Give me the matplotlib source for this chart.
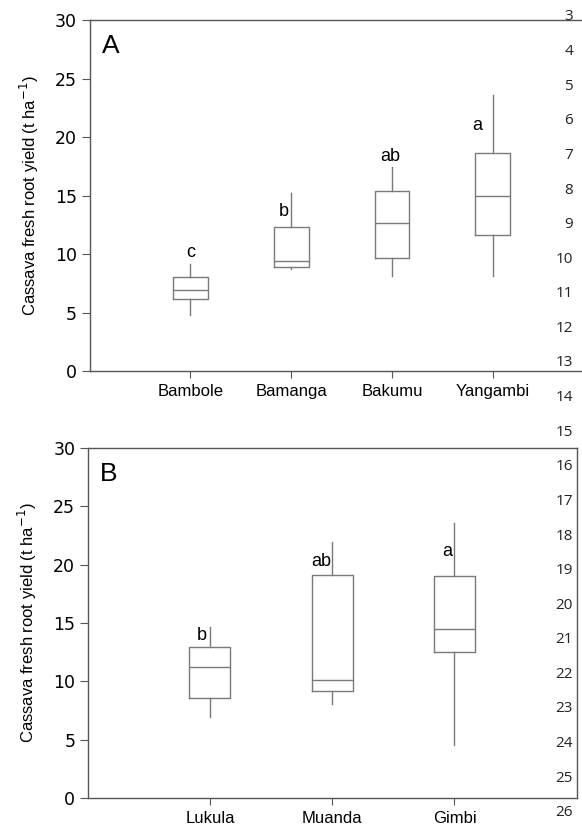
import matplotlib.pyplot as plt

# Panel A data
sites_a = ['Bambole', 'Bamanga', 'Bakumu', 'Yangambi']
whislo_a = [4.76, 8.69, 8.12, 8.12]
q1_a = [6.18, 8.91, 9.68, 11.62]
med_a = [6.95, 9.38, 12.68, 14.98]
q3_a = [8.03, 12.28, 15.38, 18.6]
whishi_a = [9.12, 15.19, 17.46, 23.59]
letters_a = ['c', 'b', 'ab', 'a']
letter_y_a = [10.1, 13.6, 18.3, 21.0]

# Panel B data
sites_b = ['Lukula', 'Muanda', 'Gimbi']
whislo_b = [6.93, 8.07, 4.56]
q1_b = [8.55, 9.18, 12.54]
med_b = [11.2, 10.12, 14.51]
q3_b = [12.92, 19.07, 19.04]
whishi_b = [14.68, 21.95, 23.52]
letters_b = ['b', 'ab', 'a']
letter_y_b = [13.97, 20.24, 21.16]

line_numbers = [3, 4, 5, 6, 7, 8, 9, 10, 11, 12, 13, 14, 15, 16, 17, 18, 19,
                20, 21, 22, 23, 24, 25, 26]

box_col = '#7a7a7a'
spine_col = '#555555'
ylabel = 'Cassava fresh root yield (t ha$^{-1}$)'


def draw_panel(ax, sites, lo, q1, med, q3, hi, letters, let_y, let_dx, width, tag, xmax):
    stats = []
    for i in range(len(sites)):
        stats.append({'whislo': lo[i], 'q1': q1[i], 'med': med[i],
                      'q3': q3[i], 'whishi': hi[i], 'fliers': []})
    pos = list(range(1, len(sites) + 1))
    line = dict(color=box_col, linewidth=1.0)
    ax.bxp(stats, positions=pos, widths=width, showcaps=False,
           boxprops=line, whiskerprops=line, medianprops=line)
    for p, l, y, dx in zip(pos, letters, let_y, let_dx):
        ax.text(p + dx, y, l, ha='center', va='center', fontsize=13,
                family='Liberation Sans')
    ax.set_xlim(0, xmax)
    ax.set_ylim(0, 30)
    ax.set_yticks([0, 5, 10, 15, 20, 25, 30])
    ax.set_xticks(pos)
    ax.set_xticklabels(sites, family='Liberation Sans', fontsize=12)
    ax.tick_params(axis='y', labelsize=12.5, length=6, color=spine_col, pad=3)
    ax.tick_params(axis='x', length=5, color=spine_col, pad=4)
    ax.set_ylabel(ylabel, family='Liberation Sans', fontsize=12, labelpad=10)
    for s in ax.spines.values():
        s.set_color(spine_col)
        s.set_linewidth(1.0)
    ax.text(0.025, 0.925, tag, transform=ax.transAxes, fontsize=19,
            family='Liberation Sans', ha='left', va='center')


fig = plt.figure(figsize=(5.82, 8.26), dpi=100)

ax_a = fig.add_axes([0.1538, 0.5508, 0.8488, 0.4249])
draw_panel(ax_a, sites_a, whislo_a, q1_a, med_a, q3_a, whishi_a, letters_a,
           letter_y_a, [0, -0.07, -0.02, -0.15], 0.345, 'A', 4.9)
ax_a.spines['right'].set_visible(False)

ax_b = fig.add_axes([0.1507, 0.0335, 0.8402, 0.4245])
draw_panel(ax_b, sites_b, whislo_b, q1_b, med_b, q3_b, whishi_b, letters_b,
           letter_y_b, [-0.07, -0.09, -0.06], 0.335, 'B', 4.0)

# manuscript line numbers down the right margin
for i, n in enumerate(line_numbers):
    y_px = 17 + i * 34.6
    fig.text(573 / 582, 1 - y_px / 826, str(n), ha='right', va='center',
             fontsize=11, family='Open Sans', color='#222222')

fig.savefig('out.png', dpi=100)
